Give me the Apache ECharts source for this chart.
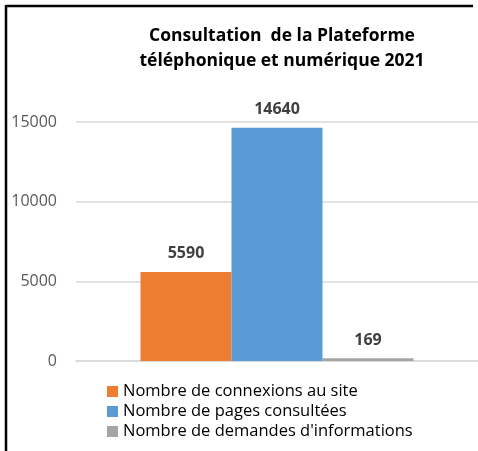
<!DOCTYPE html>
<html>
<head>
<meta charset="utf-8">
<script src="https://cdn.jsdelivr.net/npm/echarts@6/dist/echarts.min.js"></script>
<style>
  html, body { margin: 0; padding: 0; background: #fff; }
  #chart { width: 478px; height: 451px; }
</style>
</head>
<body>
<div id="chart"></div>
<script>
// Consultation de la plateforme, 2021
const categories = ['2021'];
const seriesNames = [
  'Nombre de connexions au site',
  'Nombre de pages consultées',
  "Nombre de demandes d'informations"
];
const connexions = [5590];
const pages = [14640];
const demandes = [169];
const yTicks = [0, 5000, 10000, 15000];

const colors = ['#ED7D31', '#5B9BD5', '#A5A5A5'];
const font = '"Open Sans", sans-serif';

const chart = echarts.init(document.getElementById('chart'), null, { renderer: 'canvas' });

function barSeries(name, data, color) {
  return {
    name: name,
    type: 'bar',
    data: data,
    barGap: '0%',
    barWidth: 91,
    itemStyle: { color: color },
    label: {
      show: true,
      position: 'top',
      distance: 10,
      color: '#404040',
      fontFamily: font,
      fontWeight: 'bold',
      fontSize: 16
    }
  };
}

chart.setOption({
  animation: false,
  color: colors,
  title: {
    text: 'Consultation  de la Plateforme\ntéléphonique et numérique 2021',
    left: 277,
    top: 19,
    textAlign: 'center',
    textStyle: {
      fontFamily: font,
      fontWeight: 'bold',
      fontSize: 17.5,
      lineHeight: 25,
      color: '#000'
    }
  },
  legend: {
    orient: 'vertical',
    left: 107,
    top: 383,
    padding: 0,
    itemWidth: 11,
    itemHeight: 11,
    itemGap: 3,
    icon: 'rect',
    textStyle: { fontFamily: font, fontSize: 16.5, color: '#000' },
    data: seriesNames
  },
  grid: { left: 76, top: 122, width: 406, height: 239, containLabel: false },
  xAxis: {
    type: 'category',
    data: categories,
    axisLine: { show: true, lineStyle: { color: '#d9d9d9', width: 1.5 } },
    axisTick: { show: false },
    axisLabel: { show: false }
  },
  yAxis: {
    type: 'value',
    min: yTicks[0],
    max: yTicks[yTicks.length - 1],
    interval: yTicks[1] - yTicks[0],
    axisLine: { show: false },
    axisTick: { show: false },
    splitLine: { lineStyle: { color: '#d9d9d9', width: 1.5 } },
    axisLabel: {
      color: '#595959',
      fontFamily: font,
      fontSize: 16,
      margin: 19,
      formatter: function (v) { return String(v); }
    }
  },
  series: [
    barSeries(seriesNames[0], connexions, colors[0]),
    barSeries(seriesNames[1], pages, colors[1]),
    barSeries(seriesNames[2], demandes, colors[2])
  ],
  graphic: [
    { type: 'line', shape: { x1: 6, y1: 6, x2: 473, y2: 6 }, style: { stroke: '#000', lineWidth: 2.5 } },
    { type: 'line', shape: { x1: 6, y1: 5, x2: 6, y2: 451 }, style: { stroke: '#000', lineWidth: 2.5 } }
  ]
});
</script>
</body>
</html>
